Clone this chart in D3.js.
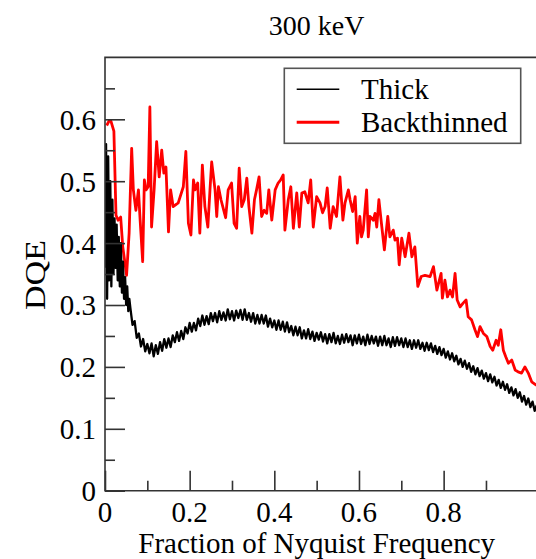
<!DOCTYPE html>
<html>
<head>
<meta charset="utf-8">
<script src="https://cdn.jsdelivr.net/npm/d3@7"></script>
<style>
  html, body { margin: 0; padding: 0; background: #fff; }
  svg { display: block; }
  text { font-family: "Liberation Serif", "DejaVu Serif", serif; fill: #000; }
</style>
</head>
<body>
<div id="chart"></div>
<script>
// values
var chartTitle = "300 keV";
var seriesNames = ["Thick", "Backthinned"];
var xTicks = [0, 0.2, 0.4, 0.6, 0.8];
var xMinor = [0.1, 0.3, 0.5, 0.7, 0.9];
var yTicks = [0, 0.1, 0.2, 0.3, 0.4, 0.5, 0.6];
var yMinor = [0.05, 0.15, 0.25, 0.35, 0.45, 0.55, 0.65];

var thickFreq = [0, 0.0025, 0.005, 0.0075, 0.01, 0.0125, 0.015, 0.0175, 0.02, 0.0225, 0.025, 0.0275,
  0.03, 0.0325, 0.035, 0.0375, 0.04, 0.0425, 0.045, 0.0475, 0.05, 0.0525, 0.055, 0.0575,
  0.06, 0.065, 0.07, 0.075, 0.08, 0.085, 0.09, 0.095, 0.1, 0.105, 0.11, 0.115, 0.12, 0.125, 0.13, 0.135,
  0.14, 0.145, 0.15, 0.155, 0.16, 0.165, 0.17, 0.175, 0.18, 0.185, 0.19, 0.195, 0.2, 0.205, 0.21, 0.215,
  0.22, 0.225, 0.23, 0.235, 0.24, 0.245, 0.25, 0.255, 0.26, 0.265, 0.27, 0.275, 0.28, 0.285, 0.29, 0.295,
  0.3, 0.305, 0.31, 0.315, 0.32, 0.325, 0.33, 0.335, 0.34, 0.345, 0.35, 0.355, 0.36, 0.365, 0.37, 0.375,
  0.38, 0.385, 0.39, 0.395, 0.4, 0.405, 0.41, 0.415, 0.42, 0.425, 0.43, 0.435, 0.44, 0.445, 0.45, 0.455,
  0.46, 0.465, 0.47, 0.475, 0.48, 0.485, 0.49, 0.495, 0.5, 0.505, 0.51, 0.515, 0.52, 0.525, 0.53, 0.535,
  0.54, 0.545, 0.55, 0.555, 0.56, 0.565, 0.57, 0.575, 0.58, 0.585, 0.59, 0.595, 0.6, 0.605, 0.61, 0.615,
  0.62, 0.625, 0.63, 0.635, 0.64, 0.645, 0.65, 0.655, 0.66, 0.665, 0.67, 0.675, 0.68, 0.685, 0.69, 0.695,
  0.7, 0.705, 0.71, 0.715, 0.72, 0.725, 0.73, 0.735, 0.74, 0.745, 0.75, 0.755, 0.76, 0.765, 0.77, 0.775,
  0.78, 0.785, 0.79, 0.795, 0.8, 0.805, 0.81, 0.815, 0.82, 0.825, 0.83, 0.835, 0.84, 0.845, 0.85, 0.855,
  0.86, 0.865, 0.87, 0.875, 0.88, 0.885, 0.89, 0.895, 0.9, 0.905, 0.91, 0.915, 0.92, 0.925, 0.93, 0.935,
  0.94, 0.945, 0.95, 0.955, 0.96, 0.965, 0.97, 0.975, 0.98, 0.985, 0.99, 0.995, 1, 1.005, 1.01, 1.015, 1.02];

var thickDqe = [0.36, 0.56, 0.31, 0.54, 0.34, 0.50, 0.33, 0.47, 0.35, 0.44, 0.36, 0.43,
  0.34, 0.41, 0.33, 0.40, 0.32, 0.37, 0.31, 0.345, 0.30, 0.33, 0.29, 0.31,
  0.295, 0.268, 0.274, 0.247, 0.254, 0.233, 0.245, 0.225, 0.237, 0.222, 0.238, 0.217, 0.235, 0.221, 0.240, 0.226,
  0.245, 0.231, 0.246, 0.232, 0.251, 0.240, 0.256, 0.242, 0.258, 0.245, 0.264, 0.254, 0.271, 0.257, 0.271, 0.259,
  0.278, 0.266, 0.283, 0.268, 0.282, 0.269, 0.287, 0.274, 0.287, 0.272, 0.290, 0.276, 0.288, 0.275, 0.293, 0.277,
  0.290, 0.275, 0.291, 0.279, 0.292, 0.276, 0.293, 0.276, 0.287, 0.273, 0.287, 0.270, 0.284, 0.270, 0.284, 0.270,
  0.283, 0.265, 0.278, 0.264, 0.275, 0.260, 0.275, 0.260, 0.273, 0.257, 0.272, 0.256, 0.266, 0.251, 0.265, 0.251,
  0.264, 0.246, 0.259, 0.246, 0.261, 0.245, 0.257, 0.242, 0.255, 0.244, 0.256, 0.241, 0.253, 0.238, 0.253, 0.240,
  0.255, 0.238, 0.250, 0.237, 0.252, 0.239, 0.253, 0.240, 0.251, 0.235, 0.251, 0.238, 0.252, 0.237, 0.249, 0.235,
  0.252, 0.237, 0.250, 0.238, 0.249, 0.234, 0.249, 0.235, 0.250, 0.235, 0.246, 0.232, 0.248, 0.234, 0.248, 0.235,
  0.246, 0.232, 0.246, 0.232, 0.243, 0.229, 0.243, 0.231, 0.243, 0.229, 0.239, 0.226, 0.239, 0.227, 0.238, 0.224,
  0.234, 0.221, 0.232, 0.219, 0.229, 0.215, 0.225, 0.212, 0.222, 0.209, 0.218, 0.204, 0.213, 0.200, 0.210, 0.197,
  0.206, 0.192, 0.201, 0.188, 0.198, 0.185, 0.194, 0.181, 0.190, 0.177, 0.188, 0.175, 0.184, 0.170, 0.179, 0.166,
  0.176, 0.163, 0.172, 0.158, 0.167, 0.154, 0.164, 0.150, 0.159, 0.144, 0.153, 0.139, 0.149, 0.135, 0.144, 0.129, 0.138];

var thinFreq = [0.004, 0.010, 0.014, 0.021, 0.026, 0.031, 0.037, 0.042, 0.051, 0.057, 0.063, 0.067,
  0.073, 0.079, 0.083, 0.089, 0.093, 0.097, 0.102, 0.106, 0.110, 0.116, 0.122, 0.128, 0.134, 0.139,
  0.144, 0.150, 0.155, 0.161, 0.173, 0.185, 0.191, 0.197, 0.203, 0.209, 0.213, 0.219, 0.224, 0.230,
  0.236, 0.243, 0.248, 0.252, 0.260, 0.264, 0.268, 0.274, 0.285, 0.291, 0.299, 0.305, 0.311, 0.317,
  0.323, 0.329, 0.335, 0.340, 0.347, 0.353, 0.358, 0.364, 0.370, 0.376, 0.382, 0.387, 0.394, 0.402,
  0.409, 0.415, 0.421, 0.425, 0.433, 0.439, 0.445, 0.453, 0.459, 0.465, 0.472, 0.480, 0.486, 0.492,
  0.500, 0.508, 0.514, 0.520, 0.525, 0.532, 0.539, 0.547, 0.555, 0.562, 0.567, 0.575, 0.579, 0.585,
  0.591, 0.596, 0.602, 0.606, 0.610, 0.618, 0.622, 0.626, 0.634, 0.638, 0.642, 0.647, 0.654, 0.660,
  0.668, 0.673, 0.681, 0.685, 0.691, 0.695, 0.701, 0.709, 0.718, 0.725, 0.732, 0.739, 0.747, 0.756,
  0.768, 0.776, 0.784, 0.794, 0.797, 0.803, 0.809, 0.815, 0.821, 0.827, 0.832, 0.839, 0.846, 0.853,
  0.858, 0.866, 0.874, 0.880, 0.886, 0.894, 0.902, 0.910, 0.916, 0.924, 0.929, 0.935, 0.941, 0.947,
  0.953, 0.961, 0.969, 0.976, 0.984, 0.992, 1.000, 1.008, 1.018, 1.025];

var thinDqe = [0.590, 0.598, 0.597, 0.581, 0.445, 0.437, 0.442, 0.394, 0.348, 0.416, 0.553, 0.486,
  0.453, 0.486, 0.437, 0.370, 0.502, 0.486, 0.491, 0.620, 0.426, 0.486, 0.564, 0.507, 0.550, 0.513,
  0.523, 0.418, 0.486, 0.459, 0.465, 0.491, 0.548, 0.432, 0.413, 0.502, 0.486, 0.497, 0.416, 0.526,
  0.459, 0.426, 0.486, 0.531, 0.486, 0.443, 0.491, 0.470, 0.441, 0.486, 0.497, 0.432, 0.424, 0.521,
  0.459, 0.470, 0.505, 0.459, 0.416, 0.470, 0.486, 0.507, 0.443, 0.453, 0.448, 0.486, 0.437, 0.486,
  0.497, 0.502, 0.510, 0.421, 0.470, 0.491, 0.424, 0.481, 0.426, 0.481, 0.483, 0.465, 0.502, 0.426,
  0.475, 0.465, 0.449, 0.459, 0.489, 0.424, 0.459, 0.443, 0.507, 0.437, 0.465, 0.486, 0.470, 0.451,
  0.475, 0.400, 0.443, 0.410, 0.421, 0.486, 0.410, 0.443, 0.437, 0.448, 0.426, 0.470, 0.426, 0.389,
  0.443, 0.410, 0.421, 0.405, 0.408, 0.365, 0.408, 0.378, 0.416, 0.378, 0.394, 0.330, 0.346, 0.348,
  0.346, 0.362, 0.324, 0.351, 0.311, 0.340, 0.313, 0.324, 0.313, 0.351, 0.308, 0.297, 0.303, 0.308,
  0.281, 0.276, 0.260, 0.249, 0.265, 0.254, 0.249, 0.233, 0.227, 0.243, 0.235, 0.260, 0.227, 0.216,
  0.206, 0.211, 0.195, 0.192, 0.190, 0.200, 0.190, 0.176, 0.171, 0.168];

var width = 536, height = 559;
var plotLeft = 105, plotRight = 528.3, plotTop = 57.4, plotBottom = 490.7;
var axisColor = "#333";

var svg = d3.select("#chart").append("svg")
    .attr("width", width)
    .attr("height", height);

var x = d3.scaleLinear().domain([0, 1]).range([plotLeft, plotRight]);
var y = d3.scaleLinear().domain([0, 0.7]).range([plotBottom, plotTop]);

svg.append("defs").append("clipPath")
    .attr("id", "plotClip")
  .append("rect")
    .attr("x", plotLeft)
    .attr("y", plotTop)
    .attr("width", width - plotLeft)
    .attr("height", plotBottom - plotTop);

var line = d3.line()
    .x(function(d){ return x(d[0]); })
    .y(function(d){ return y(d[1]); });

var thinData = thinFreq.map(function(f, i){ return [f, thinDqe[i]]; });
var thickData = thickFreq.map(function(f, i){ return [f, thickDqe[i]]; });

var plot = svg.append("g").attr("clip-path", "url(#plotClip)");

plot.append("path")
    .datum(thinData)
    .attr("fill", "none")
    .attr("stroke", "#ff0000")
    .attr("stroke-width", 2.8)
    .attr("stroke-linejoin", "round")
    .attr("d", line);

plot.append("path")
    .datum(thickData)
    .attr("fill", "none")
    .attr("stroke", "#000")
    .attr("stroke-width", 2.3)
    .attr("stroke-linejoin", "round")
    .attr("d", line);

// frame, right side runs off the picture
svg.append("path")
    .attr("fill", "none")
    .attr("stroke", axisColor)
    .attr("stroke-width", 1.6)
    .attr("d", "M" + (width + 10) + "," + plotTop + "H" + plotLeft + "V" + plotBottom + "H" + (width + 10));

// ticks point inward
var yAxis = d3.axisRight(y).tickValues(yTicks).tickSize(20).tickFormat("");
var gy = svg.append("g").attr("transform", "translate(" + plotLeft + ",0)").call(yAxis);
var yAxisMinor = d3.axisRight(y).tickValues(yMinor).tickSize(10).tickFormat("");
var gym = svg.append("g").attr("transform", "translate(" + plotLeft + ",0)").call(yAxisMinor);

var xAxis = d3.axisTop(x).tickValues(xTicks).tickSize(20).tickFormat("");
var gx = svg.append("g").attr("transform", "translate(0," + plotBottom + ")").call(xAxis);
var xAxisMinor = d3.axisTop(x).tickValues(xMinor).tickSize(10).tickFormat("");
var gxm = svg.append("g").attr("transform", "translate(0," + plotBottom + ")").call(xAxisMinor);

[gy, gym, gx, gxm].forEach(function(g){
  g.select(".domain").remove();
  g.selectAll(".tick line").attr("stroke", axisColor).attr("stroke-width", 1.6);
});

// tick labels
svg.append("g").selectAll("text")
    .data(yTicks)
  .enter().append("text")
    .attr("x", plotLeft - 9)
    .attr("y", function(d){ return y(d); })
    .attr("dy", "0.36em")
    .attr("text-anchor", "end")
    .style("font-size", "29px")
    .text(function(d){ return d3.format("")(d); });

svg.append("g").selectAll("text")
    .data(xTicks)
  .enter().append("text")
    .attr("x", function(d){ return x(d); })
    .attr("y", 522)
    .attr("text-anchor", "middle")
    .style("font-size", "29px")
    .text(function(d){ return d3.format("")(d); });

// titles
svg.append("text")
    .attr("x", (plotLeft + plotRight) / 2)
    .attr("y", 35)
    .attr("text-anchor", "middle")
    .style("font-size", "28px")
    .text(chartTitle);

svg.append("text")
    .attr("x", (plotLeft + plotRight) / 2)
    .attr("y", 553)
    .attr("text-anchor", "middle")
    .style("font-size", "29px")
    .text("Fraction of Nyquist Frequency");

svg.append("text")
    .attr("transform", "translate(45,275) rotate(-90)")
    .attr("text-anchor", "middle")
    .attr("textLength", 70)
    .attr("lengthAdjust", "spacingAndGlyphs")
    .style("font-size", "29px")
    .text("DQE");

// legend
var legend = svg.append("g");
legend.append("rect")
    .attr("x", 284.3)
    .attr("y", 68.3)
    .attr("width", 236.4)
    .attr("height", 75)
    .attr("fill", "#fff")
    .attr("stroke", "#555")
    .attr("stroke-width", 1.6);

var legendColors = ["#000", "#ff0000"];
var legendWidths = [1.5, 3];
seriesNames.forEach(function(name, i){
  var ly = 89.3 + i * 33;
  legend.append("line")
      .attr("x1", 296.7).attr("x2", 339.3)
      .attr("y1", ly).attr("y2", ly)
      .attr("stroke", legendColors[i])
      .attr("stroke-width", legendWidths[i]);
  legend.append("text")
      .attr("x", 361)
      .attr("y", ly + 10)
      .style("font-size", "29px")
      .text(name);
});
</script>
</body>
</html>
